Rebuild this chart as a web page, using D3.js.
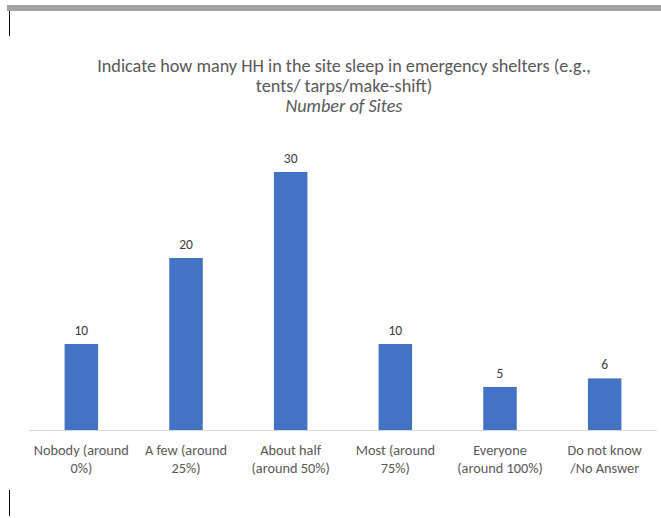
<!DOCTYPE html>
<html><head><meta charset="utf-8">
<script src="https://cdn.jsdelivr.net/npm/d3@7"></script>
<style>body{margin:0;background:#fff}</style>
</head><body>
<svg id="c" width="661" height="518"></svg>
<script>
const categories = [["Nobody (around","0%)"],["A few (around","25%)"],["About half","(around 50%)"],["Most (around","75%)"],["Everyone","(around 100%)"],["Do not know","/No Answer"]];
const values = [10,20,30,10,5,6];
const titleLines = ["Indicate how many HH in the site sleep in emergency shelters (e.g.,","tents/ tarps/make-shift)"];
const subtitle = "Number of Sites";

const svg = d3.select("#c");
const font = "Carlito, 'Open Sans', 'Liberation Sans', sans-serif";
// frame artifacts
svg.append("rect").attr("x",7).attr("y",5).attr("width",654).attr("height",6).attr("fill","#a3a3a3");
svg.append("line").attr("x1",9.5).attr("x2",9.5).attr("y1",11).attr("y2",36).attr("stroke","#000").attr("stroke-width",1);
svg.append("line").attr("x1",9.5).attr("x2",9.5).attr("y1",490).attr("y2",516).attr("stroke","#000").attr("stroke-width",1);

const x = d3.scaleBand().domain(d3.range(categories.length)).range([29,657]).paddingInner(0.68).paddingOuter(0.34);
const y = d3.scaleLinear().domain([0,30]).range([430,172]);

svg.append("line").attr("x1",29).attr("x2",657).attr("y1",430.5).attr("y2",430.5).attr("stroke","#d9d9d9");

svg.selectAll(".bar").data(values).join("rect")
  .attr("x",(d,i)=>x(i)).attr("width",x.bandwidth())
  .attr("y",d=>y(d)).attr("height",d=>y(0)-y(d)).attr("fill","#4472c4");

svg.selectAll(".lbl").data(values).join("text")
  .attr("x",(d,i)=>x(i)+x.bandwidth()/2).attr("y",d=>y(d)-9)
  .attr("text-anchor","middle").attr("font-family",font).attr("font-size",13.5).attr("fill","#404040").text(d=>d);

const cg = svg.selectAll(".cat").data(categories).join("text")
  .attr("text-anchor","middle").attr("font-family",font).attr("font-size",14.3).attr("fill","#595959");
cg.each(function(d,i){
  const t=d3.select(this);
  d.forEach((line,j)=>t.append("tspan").attr("x",x(i)+x.bandwidth()/2).attr("y",455+j*18).text(line));
});

svg.selectAll(".title").data(titleLines).join("text")
  .attr("x",344).attr("y",(d,i)=>72+i*20).attr("text-anchor","middle")
  .attr("font-family",font).attr("font-size",18.2).attr("fill","#595959").text(d=>d);
svg.append("text").attr("x",344).attr("y",112).attr("text-anchor","middle")
  .attr("font-family",font).attr("font-size",18.2).attr("font-style","italic").attr("fill","#595959").text(subtitle);
</script>
</body></html>
